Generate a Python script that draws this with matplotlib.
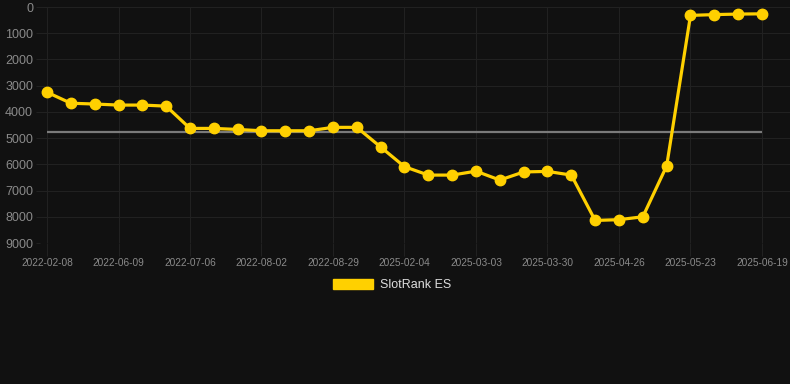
import matplotlib.pyplot as plt
from matplotlib.patches import Patch

# datos del ranking (indices categoricos, eje y invertido)
ranks = [3250, 3670, 3700, 3740, 3740, 3780, 4630, 4630, 4670, 4720,
         4720, 4720, 4590, 4590, 5340, 6090, 6410, 6410, 6260, 6600,
         6290, 6270, 6410, 8140, 8110, 8000, 6060, 320, 290, 270, 260]
avg_rank = 4780
tick_labels = ['2022-02-08', '2022-06-09', '2022-07-06', '2022-08-02',
               '2022-08-29', '2025-02-04', '2025-03-03', '2025-03-30',
               '2025-04-26', '2025-05-23', '2025-06-19']
y_ticks = [0, 1000, 2000, 3000, 4000, 5000, 6000, 7000, 8000, 9000]
series_name = 'SlotRank ES'

bg = '#111111'
yellow = '#FFD000'
grid_c = '#212121'
text_c = '#8a8a8a'

plt.rcParams['font.family'] = ['Liberation Sans', 'DejaVu Sans']

fig = plt.figure(figsize=(7.9, 3.84), dpi=100, facecolor=bg)
W, H = 790, 384
ax = fig.add_axes([40 / W, 1 - 243 / H, 750 / W, 236 / H], facecolor=bg)

xs = list(range(len(ranks)))
ax.hlines(avg_rank, 0, len(ranks) - 1, color='#7a7a7a', lw=1.6, zorder=2)
ax.plot(xs, ranks, color=yellow, lw=2.3, marker='o', markersize=7.5,
        zorder=3)

step = 23.833
ax.set_xlim(-7 / step, 30 + 28 / step)
ax.set_ylim(9000, 0)
ax.set_xticks(xs[::3])
ax.set_xticklabels(tick_labels)
ax.set_yticks(y_ticks)

ax.grid(True, color=grid_c, lw=0.8)
ax.set_axisbelow(True)
for s in ax.spines.values():
    s.set_visible(False)
ax.tick_params(axis='x', colors=grid_c, labelcolor=text_c, labelsize=7.3,
               length=9, width=0.8, pad=2)
ax.tick_params(axis='y', colors=grid_c, labelcolor=text_c, labelsize=9,
               length=3, width=0.8, pad=2)

handle = Patch(facecolor=yellow, edgecolor=yellow)
leg = fig.legend([handle], [series_name], loc='center',
                 bbox_to_anchor=(392 / W, 1 - 285 / H), frameon=False,
                 fontsize=9, handlelength=3.2, handleheight=0.95,
                 handletextpad=0.5)
for t in leg.get_texts():
    t.set_color('#dddddd')

fig.savefig('out.png', dpi=100, facecolor=bg)
